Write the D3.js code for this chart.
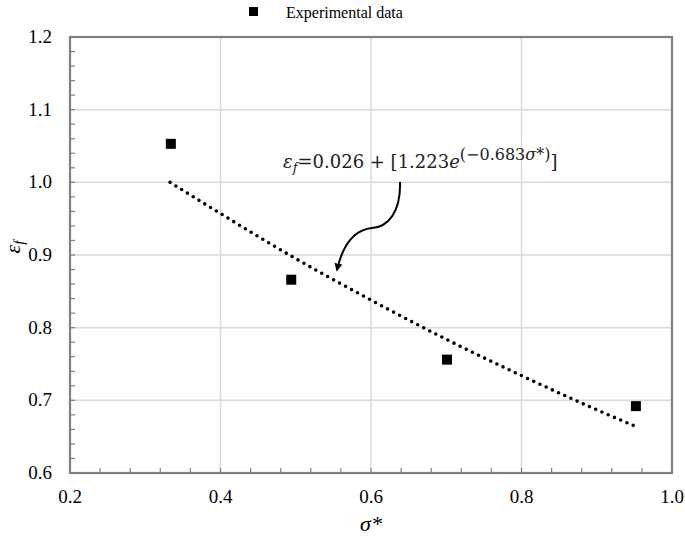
<!DOCTYPE html>
<html>
<head>
<meta charset="utf-8">
<script src="https://cdn.jsdelivr.net/npm/d3@7"></script>
<style>
  body { margin: 0; background: #fff; }
</style>
</head>
<body>
<script>
// experimental points
const sigmaStar = [0.334, 0.494, 0.701, 0.952];
const epsF = [1.053, 0.866, 0.756, 0.692];

// fitted curve
const fitX = [0.333, 0.4, 0.5, 0.6, 0.7, 0.8, 0.9, 0.952];
const fitY = [1.000, 0.957, 0.895, 0.838, 0.784, 0.734, 0.687, 0.664];

const xTicks = [0.2, 0.4, 0.6, 0.8, 1.0];
const yTicks = [0.6, 0.7, 0.8, 0.9, 1.0, 1.1, 1.2];

const width = 685;
const height = 539;
const plotLeft = 70, plotRight = 672, plotTop = 37, plotBottom = 473;
const axisColor = "#7f7f7f";
const gridColor = "#d9d9d9";
const serif = "'Liberation Serif', 'Times New Roman', serif";
const mathFont = "'DejaVu Serif', serif";

const x = d3.scaleLinear().domain([0.2, 1.0]).range([plotLeft, plotRight]);
const y = d3.scaleLinear().domain([0.6, 1.2]).range([plotBottom, plotTop]);

const svg = d3.select("body").append("svg")
  .attr("width", width)
  .attr("height", height)
  .attr("font-family", serif);

// gridlines
svg.append("g")
  .selectAll("line")
  .data(xTicks.slice(1, -1))
  .join("line")
  .attr("x1", d => x(d)).attr("x2", d => x(d))
  .attr("y1", plotTop).attr("y2", plotBottom)
  .attr("stroke", gridColor).attr("stroke-width", 1.5);

svg.append("g")
  .selectAll("line")
  .data(yTicks.slice(1, -1))
  .join("line")
  .attr("x1", plotLeft).attr("x2", plotRight)
  .attr("y1", d => y(d)).attr("y2", d => y(d))
  .attr("stroke", gridColor).attr("stroke-width", 1.5);

// minor ticks (inside)
const xMinor = d3.range(0.24, 1.0, 0.04);
const yMinor = d3.range(0.62, 1.2, 0.02);

svg.append("g")
  .selectAll("line")
  .data(xMinor)
  .join("line")
  .attr("x1", d => x(d)).attr("x2", d => x(d))
  .attr("y1", plotBottom).attr("y2", plotBottom - 5)
  .attr("stroke", axisColor).attr("stroke-width", 1.2);

svg.append("g")
  .selectAll("line")
  .data(yMinor)
  .join("line")
  .attr("x1", plotLeft).attr("x2", plotLeft + 5)
  .attr("y1", d => y(d)).attr("y2", d => y(d))
  .attr("stroke", axisColor).attr("stroke-width", 1.2);

// frame
svg.append("rect")
  .attr("x", plotLeft).attr("y", plotTop)
  .attr("width", plotRight - plotLeft).attr("height", plotBottom - plotTop)
  .attr("fill", "none")
  .attr("stroke", axisColor)
  .attr("stroke-width", 2.2);

// tick labels
svg.append("g")
  .selectAll("text")
  .data(xTicks)
  .join("text")
  .attr("x", d => x(d))
  .attr("y", 503)
  .attr("text-anchor", "middle")
  .attr("font-size", 19)
  .text(d => d.toFixed(1));

svg.append("g")
  .selectAll("text")
  .data(yTicks)
  .join("text")
  .attr("x", 52)
  .attr("y", d => y(d) + 6)
  .attr("text-anchor", "end")
  .attr("font-size", 19)
  .text(d => d.toFixed(1));

// axis titles
svg.append("text")
  .attr("x", x(0.6))
  .attr("y", 531)
  .attr("text-anchor", "middle")
  .attr("font-size", 22)
  .attr("font-style", "italic")
  .text("σ*");

const yTitle = svg.append("text")
  .attr("transform", "translate(20,247) rotate(-90)")
  .attr("text-anchor", "middle")
  .attr("font-size", 22)
  .attr("font-style", "italic");
yTitle.append("tspan").text("ε");
yTitle.append("tspan").attr("font-size", 15).attr("dy", 4).text("f");

// fitted curve, dotted
const line = d3.line()
  .x((d, i) => x(fitX[i]))
  .y(d => y(d))
  .curve(d3.curveMonotoneX);

svg.append("path")
  .datum(fitY)
  .attr("d", line)
  .attr("fill", "none")
  .attr("stroke", "#000")
  .attr("stroke-width", 3.6)
  .attr("stroke-linecap", "round")
  .attr("stroke-dasharray", "0 6.8");

// experimental points
const sq = 10;
svg.append("g")
  .selectAll("rect")
  .data(epsF)
  .join("rect")
  .attr("x", (d, i) => x(sigmaStar[i]) - sq / 2)
  .attr("y", d => y(d) - sq / 2)
  .attr("width", sq)
  .attr("height", sq)
  .attr("fill", "#000");

// legend
svg.append("rect")
  .attr("x", 249).attr("y", 7)
  .attr("width", 9).attr("height", 9)
  .attr("fill", "#000");
svg.append("text")
  .attr("x", 286).attr("y", 18)
  .attr("font-size", 16)
  .text("Experimental data");

// equation annotation
const eq = svg.append("text")
  .attr("x", 283)
  .attr("y", 168)
  .attr("font-family", mathFont)
  .attr("font-size", 18)
  .attr("fill", "#222");
eq.append("tspan").attr("font-style", "italic").text("ε");
eq.append("tspan").attr("font-style", "italic").attr("font-size", 13).attr("dy", 4).text("f");
eq.append("tspan").attr("dy", -4).text("=0.026 + [1.223");
eq.append("tspan").attr("font-style", "italic").text("e");
eq.append("tspan").attr("font-size", 16).attr("dy", -8).text("(−0.683");
eq.append("tspan").attr("font-size", 16).attr("font-style", "italic").text("σ*");
eq.append("tspan").attr("font-size", 16).text(")");
eq.append("tspan").attr("dy", 8).text("]");

// arrow
svg.append("defs").append("marker")
  .attr("id", "head")
  .attr("viewBox", "0 0 10 10")
  .attr("refX", 8).attr("refY", 5)
  .attr("markerWidth", 4).attr("markerHeight", 4)
  .attr("orient", "auto")
  .append("path")
  .attr("d", "M0,0L10,5L0,10Z")
  .attr("fill", "#000");

svg.append("path")
  .attr("d", "M400,182 C401,212 388,227 372,228 C352,230 342,248 337,270")
  .attr("fill", "none")
  .attr("stroke", "#000")
  .attr("stroke-width", 2)
  .attr("marker-end", "url(#head)");
</script>
</body>
</html>
